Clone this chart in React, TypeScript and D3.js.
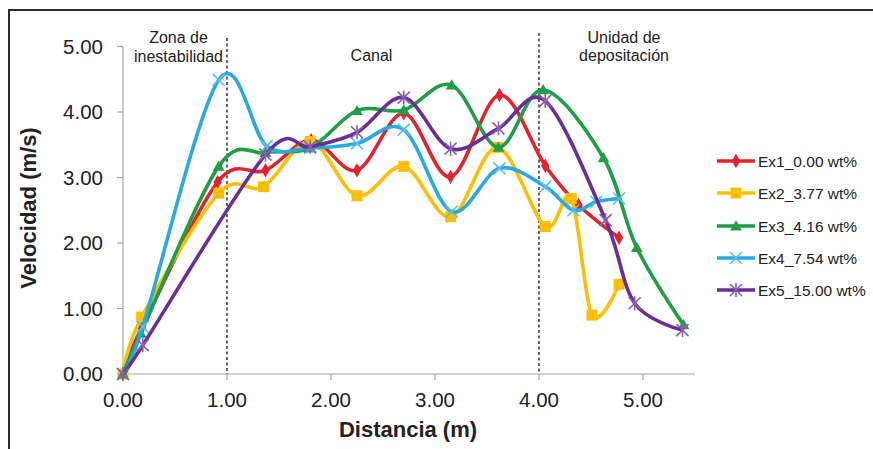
import React from "react";
import * as d3 from "d3";

const seriesNames = ["Ex1_0.00 wt%", "Ex2_3.77 wt%", "Ex3_4.16 wt%", "Ex4_7.54 wt%", "Ex5_15.00 wt%"];

const ex1X = [0, 0.18, 0.91, 1.37, 1.81, 2.25, 2.7, 3.15, 3.62, 4.06, 4.38, 4.77];
const ex1Y = [0, 0.7, 2.93, 3.11, 3.57, 3.11, 3.98, 3.01, 4.26, 3.18, 2.58, 2.08];

const ex2X = [0, 0.18, 0.92, 1.35, 1.8, 2.25, 2.7, 3.15, 3.6, 4.06, 4.31, 4.51, 4.77];
const ex2Y = [0, 0.87, 2.76, 2.86, 3.55, 2.72, 3.17, 2.4, 3.46, 2.25, 2.68, 0.9, 1.37];

const ex3X = [0, 0.17, 0.92, 1.37, 1.8, 2.25, 2.7, 3.16, 3.61, 4.04, 4.62, 4.94, 5.39];
const ex3Y = [0, 0.62, 3.17, 3.38, 3.45, 4.02, 4.03, 4.41, 3.46, 4.34, 3.3, 1.93, 0.75];

const ex4X = [0, 0.19, 0.92, 1.38, 1.8, 2.25, 2.7, 3.16, 3.62, 4.06, 4.33, 4.55, 4.77];
const ex4Y = [0, 0.72, 4.49, 3.48, 3.45, 3.52, 3.73, 2.48, 3.14, 2.86, 2.5, 2.63, 2.68];

const ex5X = [0, 0.19, 1.37, 1.8, 2.25, 2.7, 3.15, 3.61, 4.06, 4.64, 4.92, 5.38];
const ex5Y = [0, 0.44, 3.35, 3.47, 3.69, 4.22, 3.44, 3.75, 4.17, 2.35, 1.08, 0.67];

const xTicks = [0, 1, 2, 3, 4, 5];
const yTicks = [0, 1, 2, 3, 4, 5];
const dividers = [1, 4];

const colors = ["#e3222b", "#ffbf00", "#1f9e48", "#25aae1", "#6b2d96"];
const markerKinds = ["diamond", "square", "triangle", "x", "asterisk"];

const allX = [ex1X, ex2X, ex3X, ex4X, ex5X];
const allY = [ex1Y, ex2Y, ex3Y, ex4Y, ex5Y];

const FONT = "'Liberation Sans', Arial, sans-serif";

function Marker({ kind, cx, cy, color }: { kind: string; cx: number; cy: number; color: string }) {
  if (kind === "diamond") {
    const p = d3.symbol(d3.symbolDiamond, 60)();
    return <path d={p || ""} transform={`translate(${cx},${cy})`} fill={color} />;
  }
  if (kind === "square") {
    return <rect x={cx - 5.5} y={cy - 5.5} width={11} height={11} fill={color} />;
  }
  if (kind === "triangle") {
    const p = d3.symbol(d3.symbolTriangle, 60)();
    return <path d={p || ""} transform={`translate(${cx},${cy + 1})`} fill={color} />;
  }
  const r = 6;
  const lines = [
    [-r, -r, r, r],
    [-r, r, r, -r],
  ];
  if (kind === "asterisk") lines.push([0, -r - 1, 0, r + 1]);
  const c = kind === "x" ? "#5bbfe8" : "#8a5fb0";
  return (
    <g transform={`translate(${cx},${cy})`}>
      {lines.map((l, i) => (
        <line key={i} x1={l[0]} y1={l[1]} x2={l[2]} y2={l[3]} stroke={c} strokeWidth={1.6} />
      ))}
    </g>
  );
}

export default function App() {
  const x = d3.scaleLinear().domain([0, 5.5]).range([123, 695]);
  const y = d3.scaleLinear().domain([0, 5]).range([374, 46.5]);
  const line = d3
    .line<[number, number]>()
    .x((d) => x(d[0]))
    .y((d) => y(d[1]))
    .curve(d3.curveCatmullRom.alpha(0));

  const legendY = [161, 193, 226, 258, 290];

  return (
    <svg
      width={873}
      height={449}
      style={{ position: "absolute", left: 0, top: 0, background: "#fff" }}
      fontFamily={FONT}
    >
      <rect x={0} y={0} width={873} height={449} fill="#fff" />
      <line x1={8} y1={10} x2={873} y2={10} stroke="#2b2b2b" strokeWidth={2} />
      <line x1={9} y1={10} x2={9} y2={449} stroke="#2b2b2b" strokeWidth={2} />

      {/* axes */}
      <line x1={x(0)} y1={y(0)} x2={x(0)} y2={y(5)} stroke="#a6a6a6" strokeWidth={1.2} />
      <line x1={x(0)} y1={y(0)} x2={x(5.5)} y2={y(0)} stroke="#a6a6a6" strokeWidth={1.2} />
      {yTicks.map((t) => (
        <g key={"y" + t}>
          <line x1={x(0) - 6} x2={x(0)} y1={y(t)} y2={y(t)} stroke="#a6a6a6" strokeWidth={1.2} />
          <text x={103} y={y(t)} dy="0.35em" textAnchor="end" fontSize={20.5} fill="#222">
            {t.toFixed(2)}
          </text>
        </g>
      ))}
      {xTicks.map((t) => (
        <g key={"x" + t}>
          <line x1={x(t)} x2={x(t)} y1={y(0)} y2={y(0) + 6} stroke="#a6a6a6" strokeWidth={1.2} />
          <text x={x(t)} y={406.5} textAnchor="middle" fontSize={20.5} fill="#222">
            {t.toFixed(2)}
          </text>
        </g>
      ))}
      <text
        transform={`translate(36,208) rotate(-90)`}
        textAnchor="middle"
        fontSize={22}
        fontWeight="bold"
        fill="#222"
      >
        Velocidad (m/s)
      </text>
      <text x={408} y={437} textAnchor="middle" fontSize={22} fontWeight="bold" fill="#222">
        Distancia (m)
      </text>

      {/* dividers */}
      {dividers.map((d, i) => (
        <line
          key={"d" + d}
          x1={x(d)}
          x2={x(d)}
          y1={i === 0 ? 38 : 33}
          y2={y(0)}
          stroke="#111"
          strokeWidth={1.3}
          strokeDasharray="3,2.5"
        />
      ))}
      <g fontSize={16} fill="#222" textAnchor="middle">
        <text x={178.5} y={43}>Zona de</text>
        <text x={178.5} y={62}>inestabilidad</text>
        <text x={371.5} y={61}>Canal</text>
        <text x={624} y={43}>Unidad de</text>
        <text x={624} y={61}>depositación</text>
      </g>

      {/* series */}
      {allX.map((xs, si) => {
        const pts: [number, number][] = xs.map((v, i) => [v, allY[si][i]]);
        return (
          <g key={"s" + si}>
            <path d={line(pts) || ""} fill="none" stroke={colors[si]} strokeWidth={3.6} strokeLinejoin="round" />
            {pts.map((p, i) => (
              <Marker key={i} kind={markerKinds[si]} cx={x(p[0])} cy={y(p[1])} color={colors[si]} />
            ))}
          </g>
        );
      })}

      {/* legend */}
      {seriesNames.map((name, i) => (
        <g key={"l" + i}>
          <line x1={717} x2={755} y1={legendY[i]} y2={legendY[i]} stroke={colors[i]} strokeWidth={3.6} />
          <Marker kind={markerKinds[i]} cx={736} cy={legendY[i]} color={colors[i]} />
          <text x={758} y={legendY[i]} dy="0.36em" fontSize={15.5} fill="#222">
            {name}
          </text>
        </g>
      ))}
    </svg>
  );
}
